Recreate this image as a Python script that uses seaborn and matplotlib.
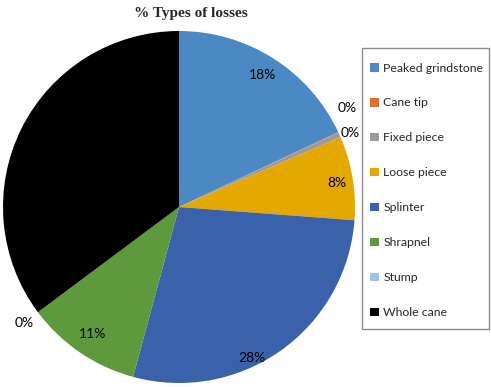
import numpy as np
import matplotlib
matplotlib.use("Agg")
import matplotlib.pyplot as plt
import matplotlib.patches as mpatches
import seaborn as sns

categories = ['Peaked grindstone', 'Cane tip', 'Fixed piece', 'Loose piece',
              'Splinter', 'Shrapnel', 'Stump', 'Whole cane']
shares = [18.0, 0.05, 0.45, 7.7, 28.0, 10.6, 0.0, 35.2]
colors = ['#4A89C3', '#E0702A', '#9A9A9A', '#E5A800',
          '#3A62AA', '#5E9A3B', '#9DC3E6', '#000000']

sns.set_style("white")
plt.rcParams['font.family'] = ['Lato', 'DejaVu Sans']

W, H = 491, 387
fig = plt.figure(figsize=(W / 100, H / 100), dpi=100)
# pie centre ~ (179, 207) px, radius ~176 px
r = 176
ax = fig.add_axes([(179 - r) / W, (H - 207 - r) / H, 2 * r / W, 2 * r / H])

wedges, _ = ax.pie(shares, colors=colors, startangle=90, counterclock=False,
                   radius=1, wedgeprops=dict(linewidth=0))
ax.set_xlim(-1, 1)
ax.set_ylim(-1, 1)
ax.set_aspect('equal')
ax.axis('off')

# label distance and small angular nudge (degrees, clockwise) per slice
dist = [0.89, 1.11, 1.06, 0.91, 0.95, 0.875, 1.10, 0.8]
nudge = [0, -5.5, 1, 1, 9.5, 0, 0, 0]
total = sum(shares)
cum = 0
for i, v in enumerate(shares):
    mid = (cum + v / 2) / total * 360 + nudge[i]
    cum += v
    a = np.deg2rad(90 - mid)
    ax.text(dist[i] * np.cos(a), dist[i] * np.sin(a), f"{round(v / total * 100):.0f}%",
            ha='center', va='center', fontsize=10, color='black')

fig.text(191 / W, 1 - 13 / H, '% Types of losses', ha='center', va='center',
         fontsize=11, fontweight='bold', family='Liberation Serif')

# legend entries without frame, box drawn separately
leg = ax.legend(wedges, categories, loc='upper left',
                bbox_to_anchor=(355.5 / W, 1 - 48 / H), bbox_transform=fig.transFigure,
                frameon=False, fontsize=8.8,
                handlelength=0.7, handleheight=0.7, handletextpad=0.4,
                labelspacing=1.96, borderpad=1.19, borderaxespad=0)
fig.patches.append(mpatches.Rectangle((362 / W, 1 - 329 / H), 127 / W, 281 / H,
                                      transform=fig.transFigure, fill=False,
                                      edgecolor='#8C8C8C', linewidth=1.0))

plt.savefig('out.png', dpi=100)
